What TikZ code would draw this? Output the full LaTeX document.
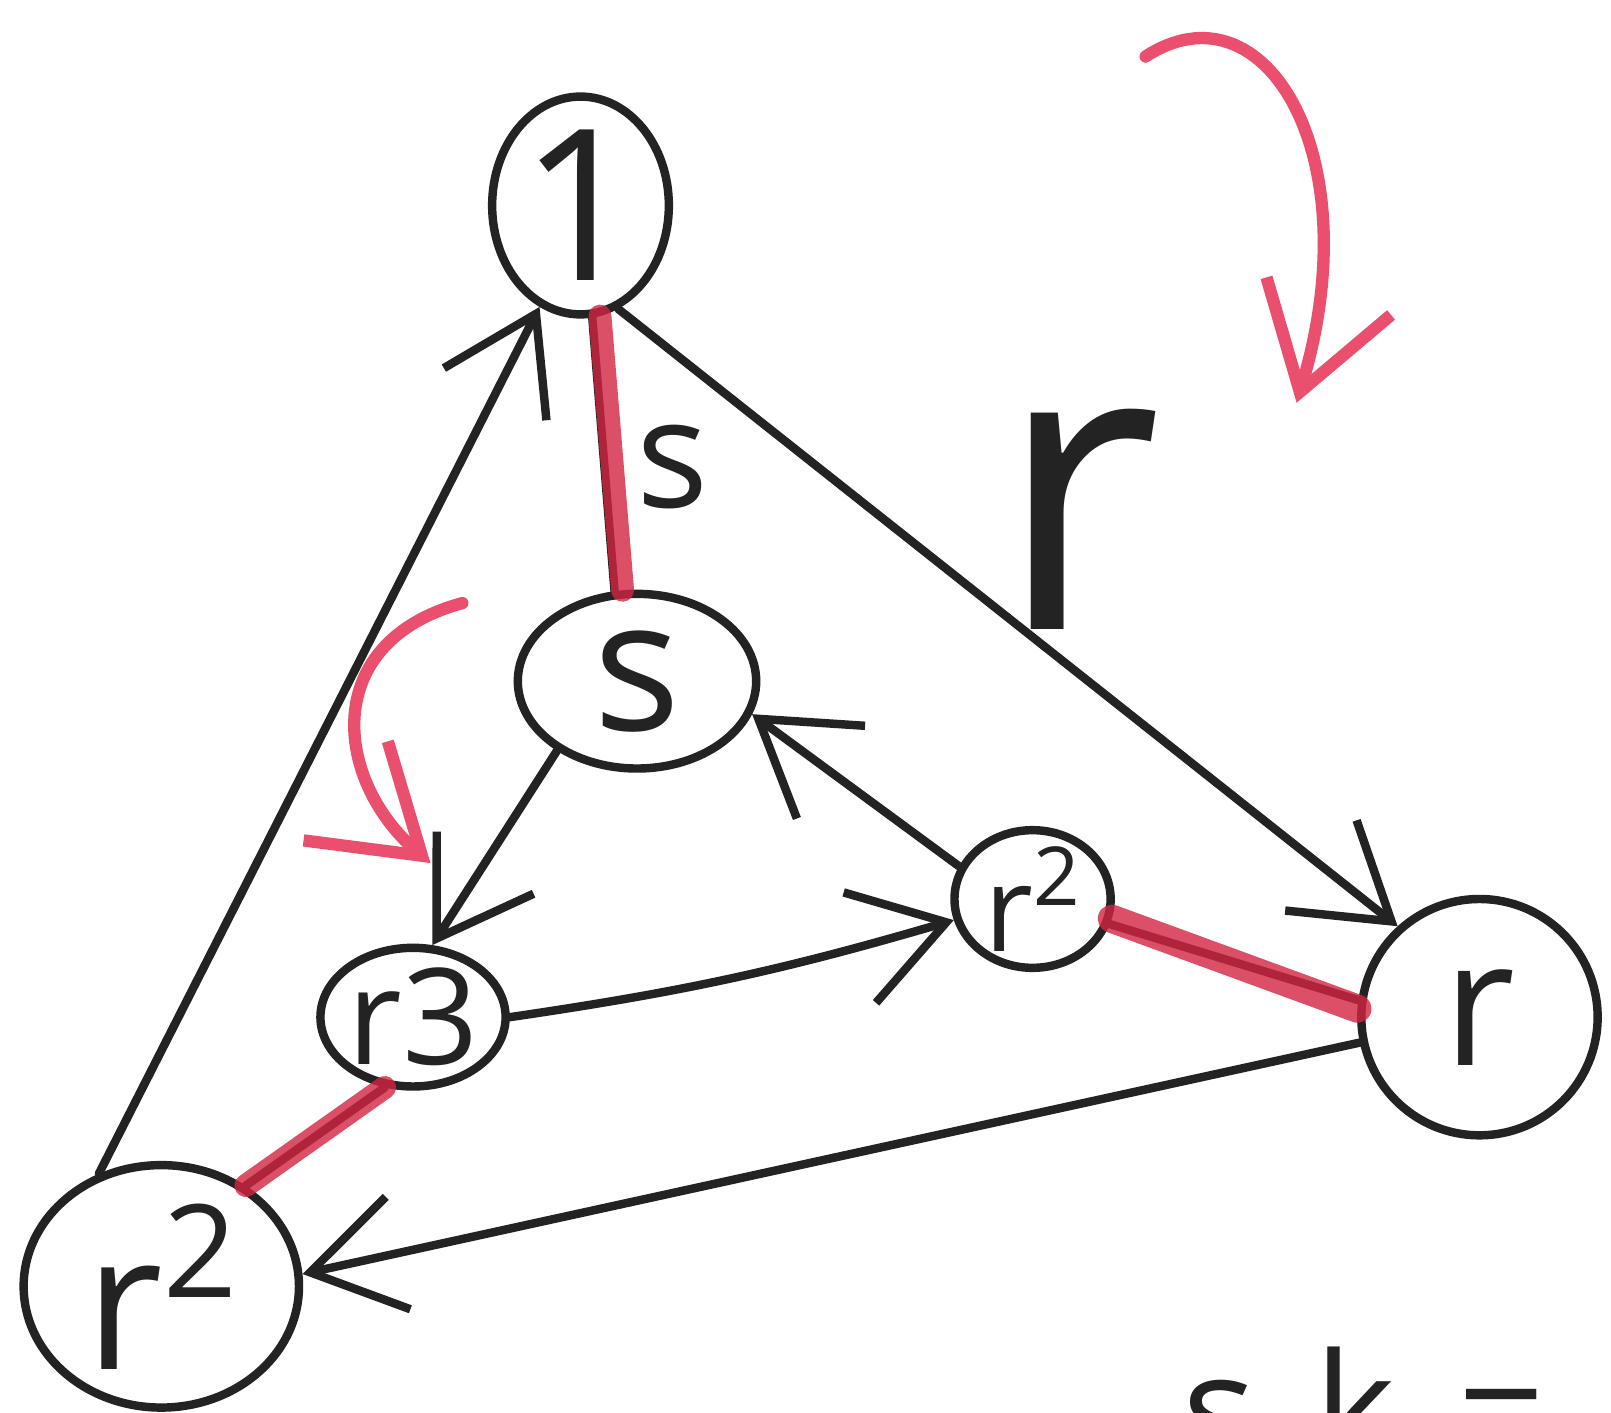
\documentclass[tikz,border=0pt]{standalone}
\usepackage{fontspec}
\setmainfont{Open Sans}
\usetikzlibrary{arrows.meta,shapes.geometric}
\definecolor{ink}{RGB}{35,35,35}
\definecolor{redink}{RGB}{210,35,65}
\definecolor{pinkink}{RGB}{234,80,110}
\newcommand\pxu{0.010274cm}
\newcommand\fs[1]{\fontsize{#1}{#1}\selectfont}
\newcommand\supr[1]{\raisebox{0.38em}{\scalebox{0.68}{#1}}}
\begin{document}
\begin{tikzpicture}[x=0.010274cm,y=-0.010274cm,
  vertex/.style={draw=ink, line width=2.4pt, ellipse, inner sep=0pt, text=ink},
  edge/.style={draw=ink, line width=2.4pt, line cap=round, -{Straight Barb[length=0.9cm,width=1.15cm]}},
  plainedge/.style={draw=ink, line width=2.4pt, line cap=round},
  sedge/.style={draw=redink, line width=6.5pt, line cap=round, opacity=0.8},
  redarrow/.style={draw=pinkink, line width=3.5pt, line cap=round, -{Straight Barb[length=1cm,width=1.3cm]}},
  lbl/.style={text=ink, inner sep=0pt}]
\useasboundingbox[fill=white] (0,0) rectangle (1568,1375);

% vertices
\node[vertex, minimum width={172*\pxu}, minimum height={212*\pxu}] (one) at (565,200) {\fs{60pt}1};
\node[vertex, minimum width={232*\pxu}, minimum height={170*\pxu}] (s) at (620,663) {\fs{52pt}s};
\node[vertex, minimum width={170*\pxu}, minimum height={125*\pxu}] (rt) at (402,990) {\fs{38pt}r3};
\node[vertex, inner sep=-0.1cm, minimum width={152*\pxu}, minimum height={134*\pxu}] (rts) at (1005,875) {\fs{34pt}r\supr{2}};
\node[vertex, minimum width={230*\pxu}, minimum height={230*\pxu}] (r) at (1440,990) {\fs{50pt}r};
\node[vertex, inner sep=-0.1cm, minimum width={268*\pxu}, minimum height={236*\pxu}] (rtwo) at (157,1252) {\fs{54pt}r\supr{2}};

% r-edges (outer cycle)
\draw[edge] (one.-70) -- (r.132);
\draw[edge] (r.-168) -- (rtwo.5);
\draw[edge] (rtwo.119) -- (one.-112);

% r-edges (inner cycle)
\draw[edge] (s.-139) -- (rt.75);
\draw[edge] (rt.0) to[bend right=4] (rts.195);
\draw[edge] (rts.156) -- (s.-16);

% s-edges (highlighted in red)
\draw[plainedge] (one.-84) -- (s.104);
\draw[sedge] (one.-80) -- (s.99);
\draw[plainedge] (rt.-112) -- (rtwo.50);
\draw[sedge] (rt.-112) -- (rtwo.50);
\draw[plainedge] (rts.-18) -- (r.172);
\draw[sedge, line width=8pt] (rts.-14) -- (r.176);

% edge labels
\node[lbl] (ls) at (655,455) {\fs{43pt}s};
\node[lbl] (lr) at (1050,505) {\fs{115pt}r};

% red orientation arrows
\coordinate (a1) at (1115,55);
\coordinate (a2) at (1262,392);
\draw[redarrow] (a1) .. controls (1230,-20) and (1335,150) .. (a2);
\coordinate (b1) at (450,587);
\coordinate (b2) at (419,840);
\draw[redarrow] (b1) .. controls (310,625) and (325,760) .. (b2);

% bottom text (cut off by the page edge, as in the reference)
\node[lbl, anchor=base west] (sk) at (1150,1425) {\fs{44pt}s\hspace{0.38em}k\hspace{0.4em}=};
\end{tikzpicture}
\end{document}
